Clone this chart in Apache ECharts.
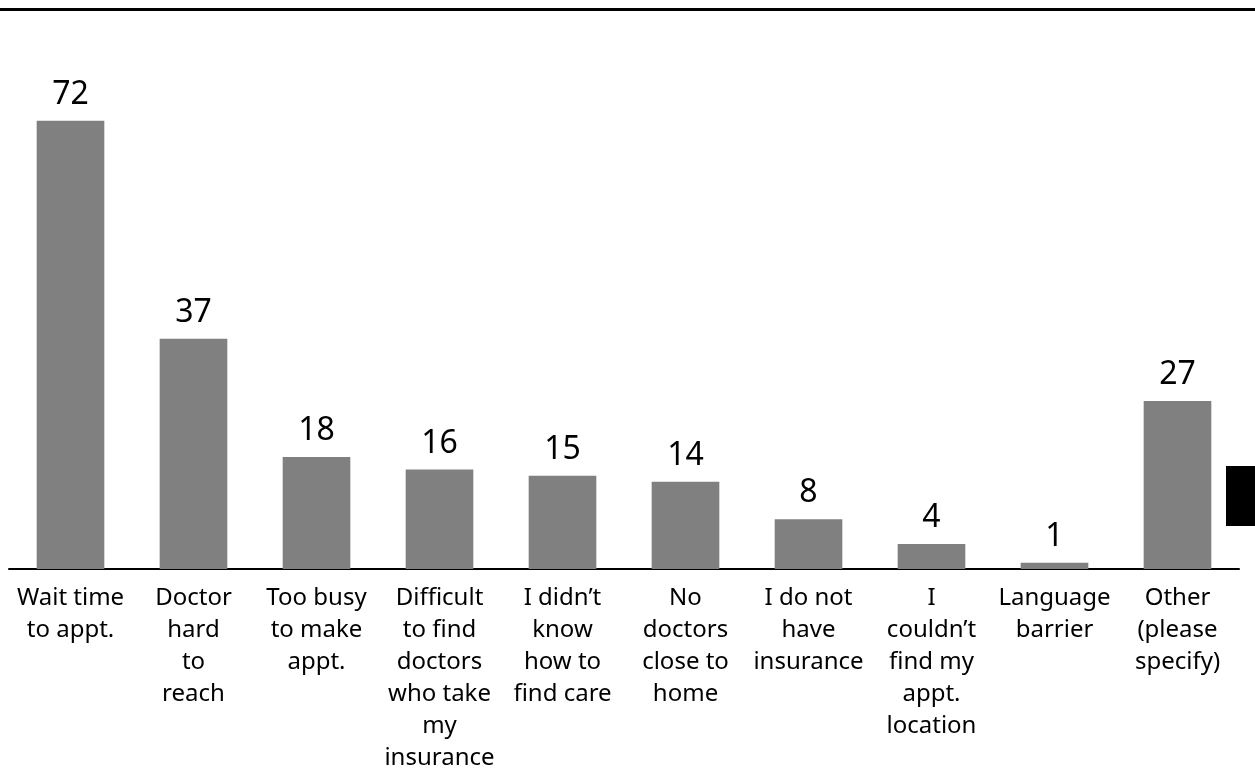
<!DOCTYPE html>
<html>
<head>
<meta charset="utf-8">
<script src="https://cdn.jsdelivr.net/npm/echarts@6/dist/echarts.min.js"></script>
<style>
  html, body { margin: 0; padding: 0; background: #fff; }
  #chart { width: 1255px; height: 768px; }
</style>
</head>
<body>
<div id="chart"></div>
<script>
// Reasons given for difficulty getting care (number of responses)
const categories = [
  'Wait time\nto appt.',
  'Doctor\nhard\nto\nreach',
  'Too busy\nto make\nappt.',
  'Difficult\nto find\ndoctors\nwho take\nmy\ninsurance',
  'I didn’t\nknow\nhow to\nfind care',
  'No\ndoctors\nclose to\nhome',
  'I do not\nhave\ninsurance',
  'I\ncouldn’t\nfind my\nappt.\nlocation',
  'Language\nbarrier',
  'Other\n(please\nspecify)'
];
const responses = [72, 37, 18, 16, 15, 14, 8, 4, 1, 27];

const font = 'Noto Sans';
const chart = echarts.init(document.getElementById('chart'), null, { renderer: 'canvas' });

chart.setOption({
  animation: false,
  backgroundColor: '#ffffff',
  grid: { left: 9, right: 16, top: 71, bottom: 199, containLabel: false, outerBoundsMode: 'none' },
  xAxis: {
    type: 'category',
    data: categories,
    axisLine: { show: true, lineStyle: { color: '#000', width: 2 } },
    axisTick: { show: false },
    axisLabel: {
      interval: 0,
      color: '#000',
      fontFamily: font,
      fontSize: 24,
      lineHeight: 32,
      margin: 13,
      align: 'center',
      verticalAlign: 'top'
    }
  },
  yAxis: {
    type: 'value',
    min: 0,
    max: 80,
    show: false,
    splitLine: { show: false }
  },
  series: [{
    type: 'bar',
    data: responses,
    barWidth: '55%',
    itemStyle: { color: '#808080' },
    label: {
      show: true,
      position: 'top',
      distance: 10,
      color: '#000',
      fontFamily: font,
      fontSize: 32
    }
  }],
  graphic: [
    // rule across the top of the page
    { type: 'rect', shape: { x: 0, y: 8, width: 1255, height: 3 }, style: { fill: '#000' } },
    // dark tab at the right edge
    { type: 'rect', shape: { x: 1226, y: 466, width: 29, height: 60 }, style: { fill: '#000' } }
  ]
});
</script>
</body>
</html>
